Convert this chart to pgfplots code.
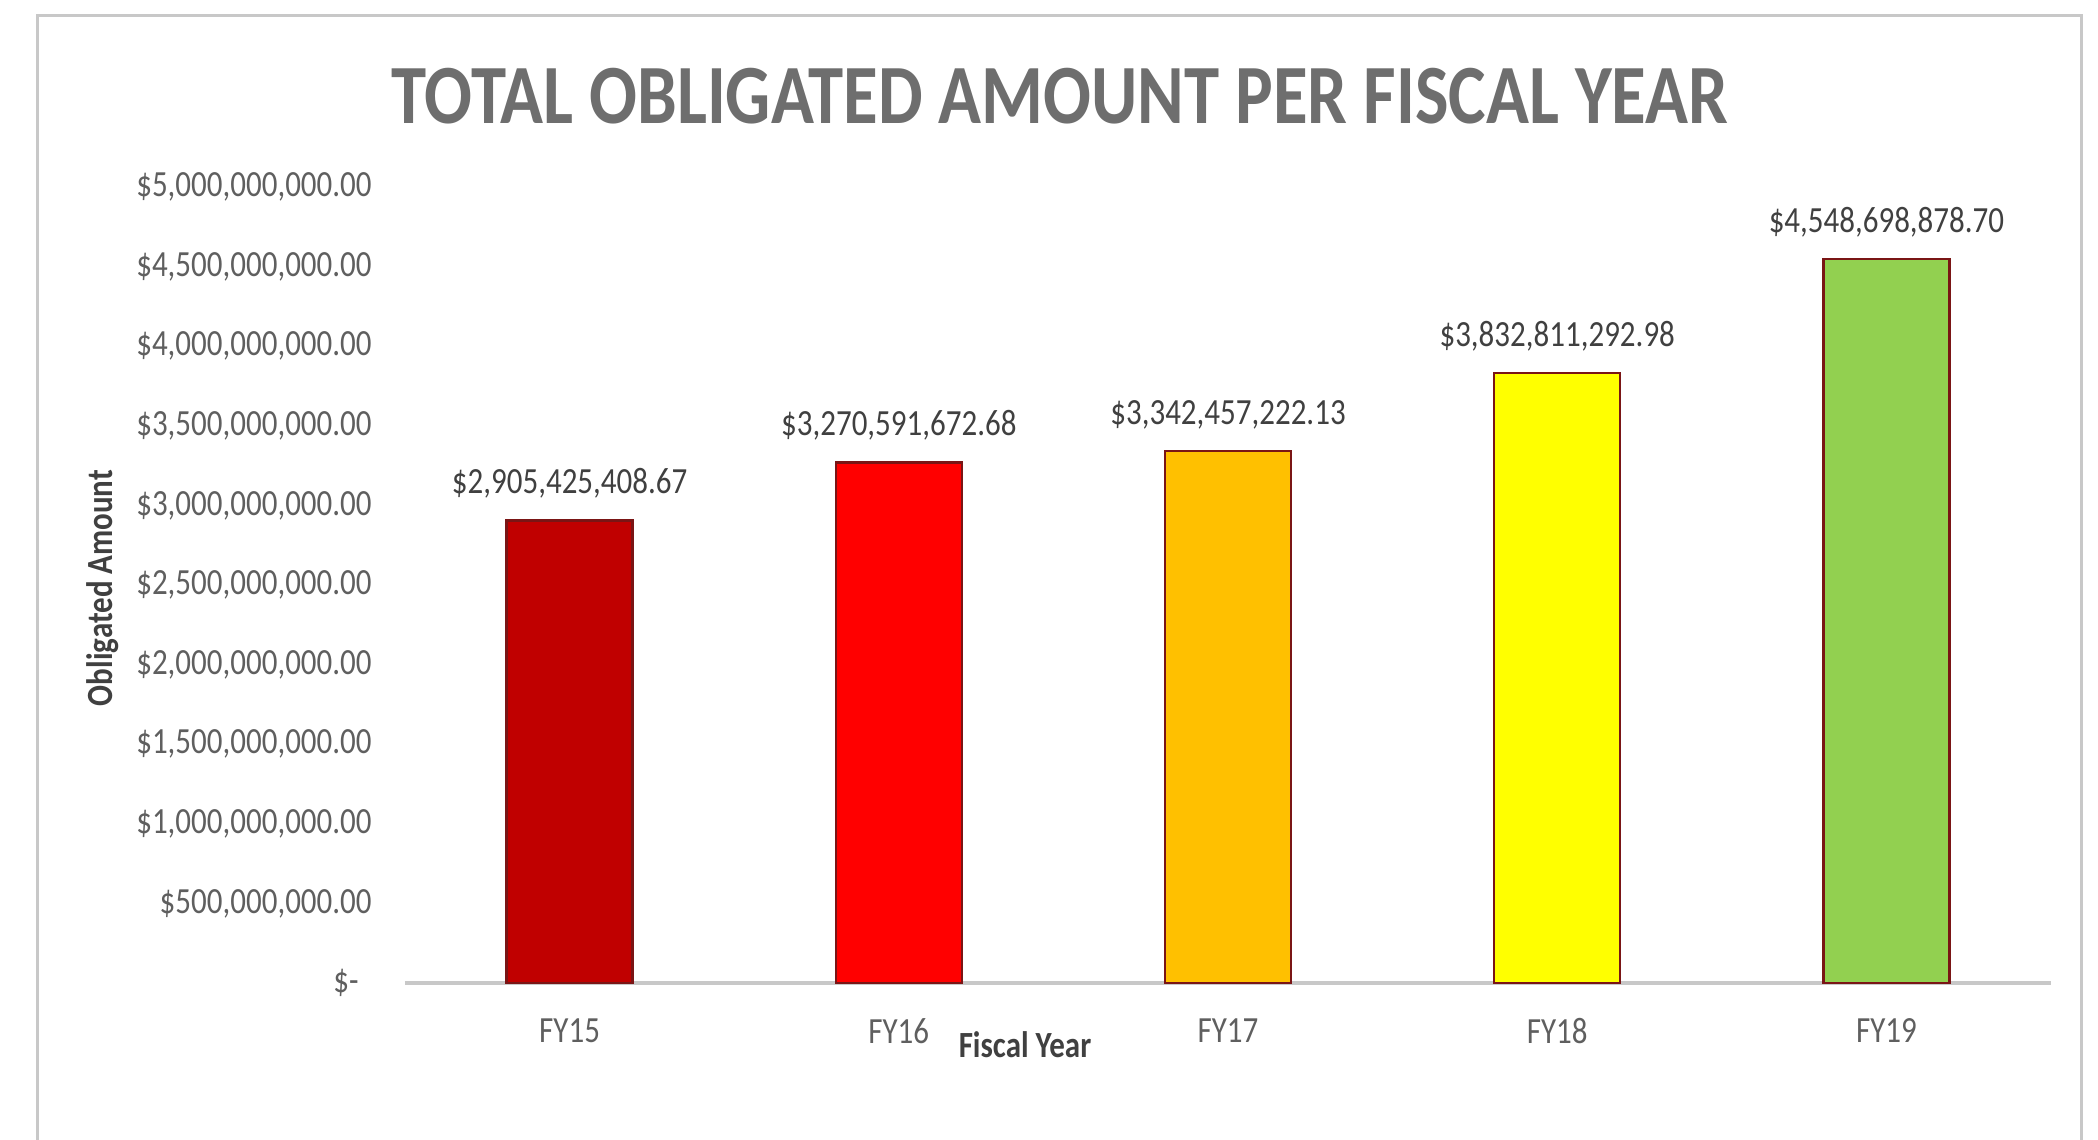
\documentclass[border=0pt]{standalone}
\usepackage{pgfplots}
\pgfplotsset{compat=1.18}
\usepackage{fontspec}
\setmainfont{Carlito}[FakeStretch=0.84]
\definecolor{c15}{HTML}{C00000}
\definecolor{c16}{HTML}{FF0000}
\definecolor{c17}{HTML}{FFC000}
\definecolor{c18}{HTML}{FFFF00}
\definecolor{c19}{HTML}{92D050}
\definecolor{edge}{HTML}{7A1515}
\definecolor{ticktxt}{HTML}{5F5F5F}
\definecolor{titletxt}{HTML}{6E6E6E}
\definecolor{lbltxt}{HTML}{404040}
\definecolor{frame}{HTML}{C8C8C8}
\begin{document}
\begin{tikzpicture}[x=1mm,y=1mm]
\useasboundingbox (0,0) rectangle (209.8,114);
\begin{scope}
\clip (0,0) rectangle (209.8,114);
\draw[frame, line width=0.3mm] (3.7,-5) -- (3.7,112.4) -- (208.1,112.4) -- (208.1,-5);
\end{scope}
\node[text=titletxt] at (106,104.4) {\fontsize{24}{28}\selectfont\bfseries TOTAL OBLIGATED AMOUNT PER FISCAL YEAR};
\node[text=lbltxt, rotate=90] at (10.3,55.2) {\fontsize{10.5}{12}\selectfont\bfseries Obligated Amount};
\node[text=lbltxt] at (102.5,9.5) {\fontsize{10.5}{12}\selectfont\bfseries Fiscal Year};
\begin{axis}[
  at={(40.5mm,15.7mm)}, anchor=south west,
  scale only axis, width=164.6mm, height=79.6mm,
  xmin=-0.5, xmax=4.5, ymin=0, ymax=5e9,
  scaled y ticks=false,
  axis line style={draw=none},
  major tick length=0pt,
  xtick={0,1,2,3,4},
  xticklabels={FY15,FY16,FY17,FY18,FY19},
  ytick={0,5e8,1e9,1.5e9,2e9,2.5e9,3e9,3.5e9,4e9,4.5e9,5e9},
  yticklabels={{\$-\hspace*{1.3mm}},{\$500,000,000.00},{\$1,000,000,000.00},{\$1,500,000,000.00},{\$2,000,000,000.00},{\$2,500,000,000.00},{\$3,000,000,000.00},{\$3,500,000,000.00},{\$4,000,000,000.00},{\$4,500,000,000.00},{\$5,000,000,000.00}},
  ticklabel style={text=ticktxt, font=\fontsize{10.5}{12}\selectfont},
  yticklabel style={xshift=-2.1mm},
  xticklabel style={yshift=-2.3mm},
  ybar, bar width=12.6mm,
  clip=false,
  nodes near coords={\$\pgfplotspointmeta},
  point meta=explicit symbolic,
  every node near coord/.append style={text=lbltxt, font=\fontsize{10.5}{12}\selectfont, yshift=0.9mm},
]
\draw[frame, line width=0.35mm] (axis cs:-0.5,0) -- (axis cs:4.5,0);
\addplot[bar shift=0pt, fill=c15, draw=edge, line width=0.25mm] coordinates {(0,2905425408.67) [2,905,425,408.67]};
\addplot[bar shift=0pt, fill=c16, draw=edge, line width=0.25mm] coordinates {(1,3270591672.68) [3,270,591,672.68]};
\addplot[bar shift=0pt, fill=c17, draw=edge, line width=0.25mm] coordinates {(2,3342457222.13) [3,342,457,222.13]};
\addplot[bar shift=0pt, fill=c18, draw=edge, line width=0.25mm] coordinates {(3,3832811292.98) [3,832,811,292.98]};
\addplot[bar shift=0pt, fill=c19, draw=edge, line width=0.25mm] coordinates {(4,4548698878.70) [4,548,698,878.70]};
\end{axis}
\end{tikzpicture}
\end{document}
